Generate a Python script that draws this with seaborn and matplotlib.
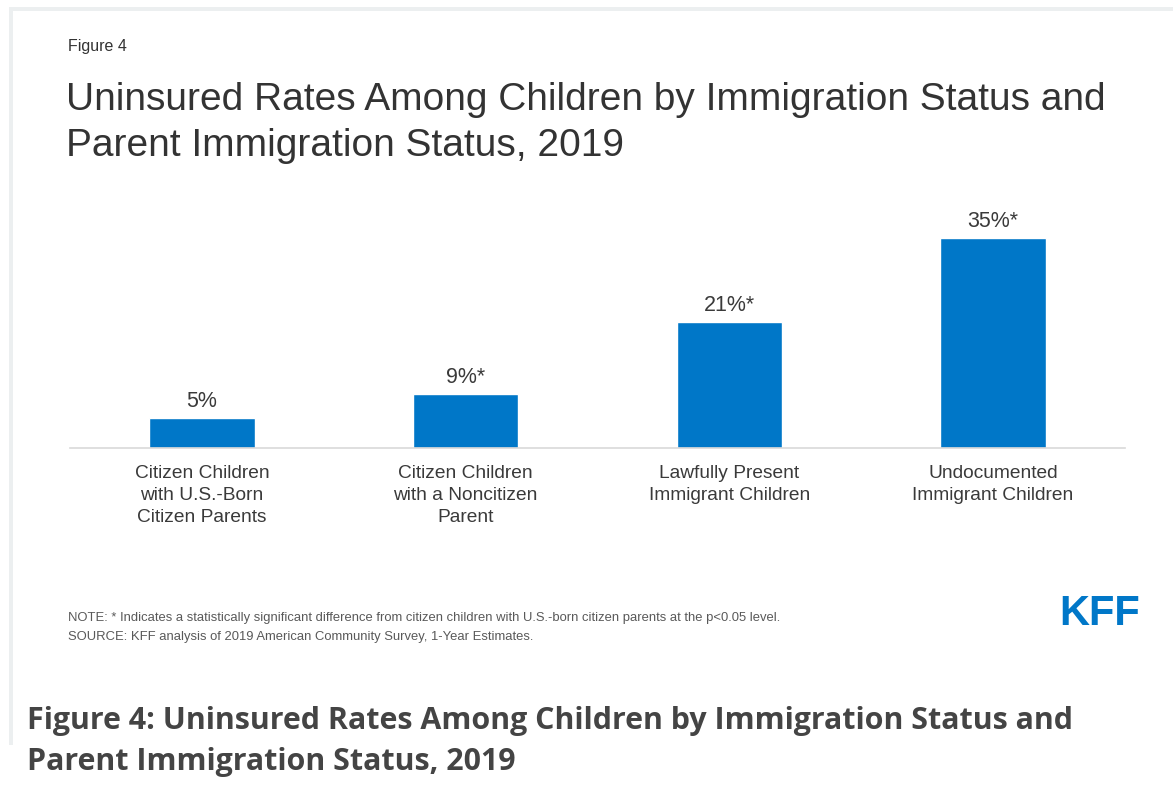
import matplotlib
matplotlib.use("Agg")
import matplotlib.pyplot as plt
import seaborn as sns
import pandas as pd

categories = ["Citizen Children\nwith U.S.-Born\nCitizen Parents",
              "Citizen Children\nwith a Noncitizen\nParent",
              "Lawfully Present\nImmigrant Children",
              "Undocumented\nImmigrant Children"]
values = [5, 9, 21, 35]
value_labels = ["5%", "9%*", "21%*", "35%*"]

title = "Uninsured Rates Among Children by Immigration Status and\nParent Immigration Status, 2019"
caption = "Figure 4: Uninsured Rates Among Children by Immigration Status and\nParent Immigration Status, 2019"
note = "NOTE: * Indicates a statistically significant difference from citizen children with U.S.-born citizen parents at the p<0.05 level."
source = "SOURCE: KFF analysis of 2019 American Community Survey, 1-Year Estimates."

sns.set_theme(style="white")
plt.rcParams['font.family'] = ['Liberation Sans', 'DejaVu Sans']

W, H = 1173, 789
fig = plt.figure(figsize=(W / 100, H / 100), dpi=100)
fig.patch.set_facecolor("white")

def fx(x):
    return x / W

def fy(y):
    return 1 - y / H

# page border bands
fig.add_artist(plt.Rectangle((fx(9), fy(11)), 1 - fx(9), 4 / H, transform=fig.transFigure,
                             color="#eceff0", lw=0))
fig.add_artist(plt.Rectangle((fx(9), fy(745)), 4 / W, (745 - 7) / H, transform=fig.transFigure,
                             color="#eceff0", lw=0))

ax = fig.add_axes([fx(70), fy(448), (1125 - 70) / W, 240 / H])
df = pd.DataFrame({"cat": categories, "val": values})
sns.barplot(data=df, x="cat", y="val", color="#0077c8", width=0.4, ax=ax, saturation=1)
ax.set_ylim(0, 40)
ax.set_xlim(-0.5, 3.5)
ax.bar_label(ax.containers[0], labels=value_labels, padding=4, fontsize=15.5, color="#3a3a3a")
for s in ["top", "right", "left"]:
    ax.spines[s].set_visible(False)
ax.spines["bottom"].set_color("#d9d9d9")
ax.spines["bottom"].set_linewidth(1.2)
ax.set_yticks([])
ax.set_xlabel("")
ax.set_ylabel("")
ax.tick_params(axis="x", length=0, pad=12, labelsize=13.8, labelcolor="#3a3a3a")
for t in ax.get_xticklabels():
    t.set_linespacing(1.38)
    t.set_va("top")

fig.text(fx(68), fy(46), "Figure 4", fontsize=11.5, color="#333333", va="center")
fig.text(fx(66), fy(123), title, fontsize=28, color="#333333", va="center", linespacing=1.38)
fig.text(fx(68), fy(618), note, fontsize=9.4, color="#595959", va="center")
fig.text(fx(68), fy(637), source, fontsize=9.4, color="#595959", va="center")
fig.text(fx(1099.5), fy(614), "KFF", fontsize=30, fontweight="bold", color="#0077c8",
         ha="center", va="center")
fig.text(fx(27), fy(741.5), caption, fontsize=21.9, fontweight="bold", color="#444444",
         va="center", linespacing=1.5, family=["Open Sans", "DejaVu Sans"])

fig.savefig("out.png", dpi=100, facecolor="white")
